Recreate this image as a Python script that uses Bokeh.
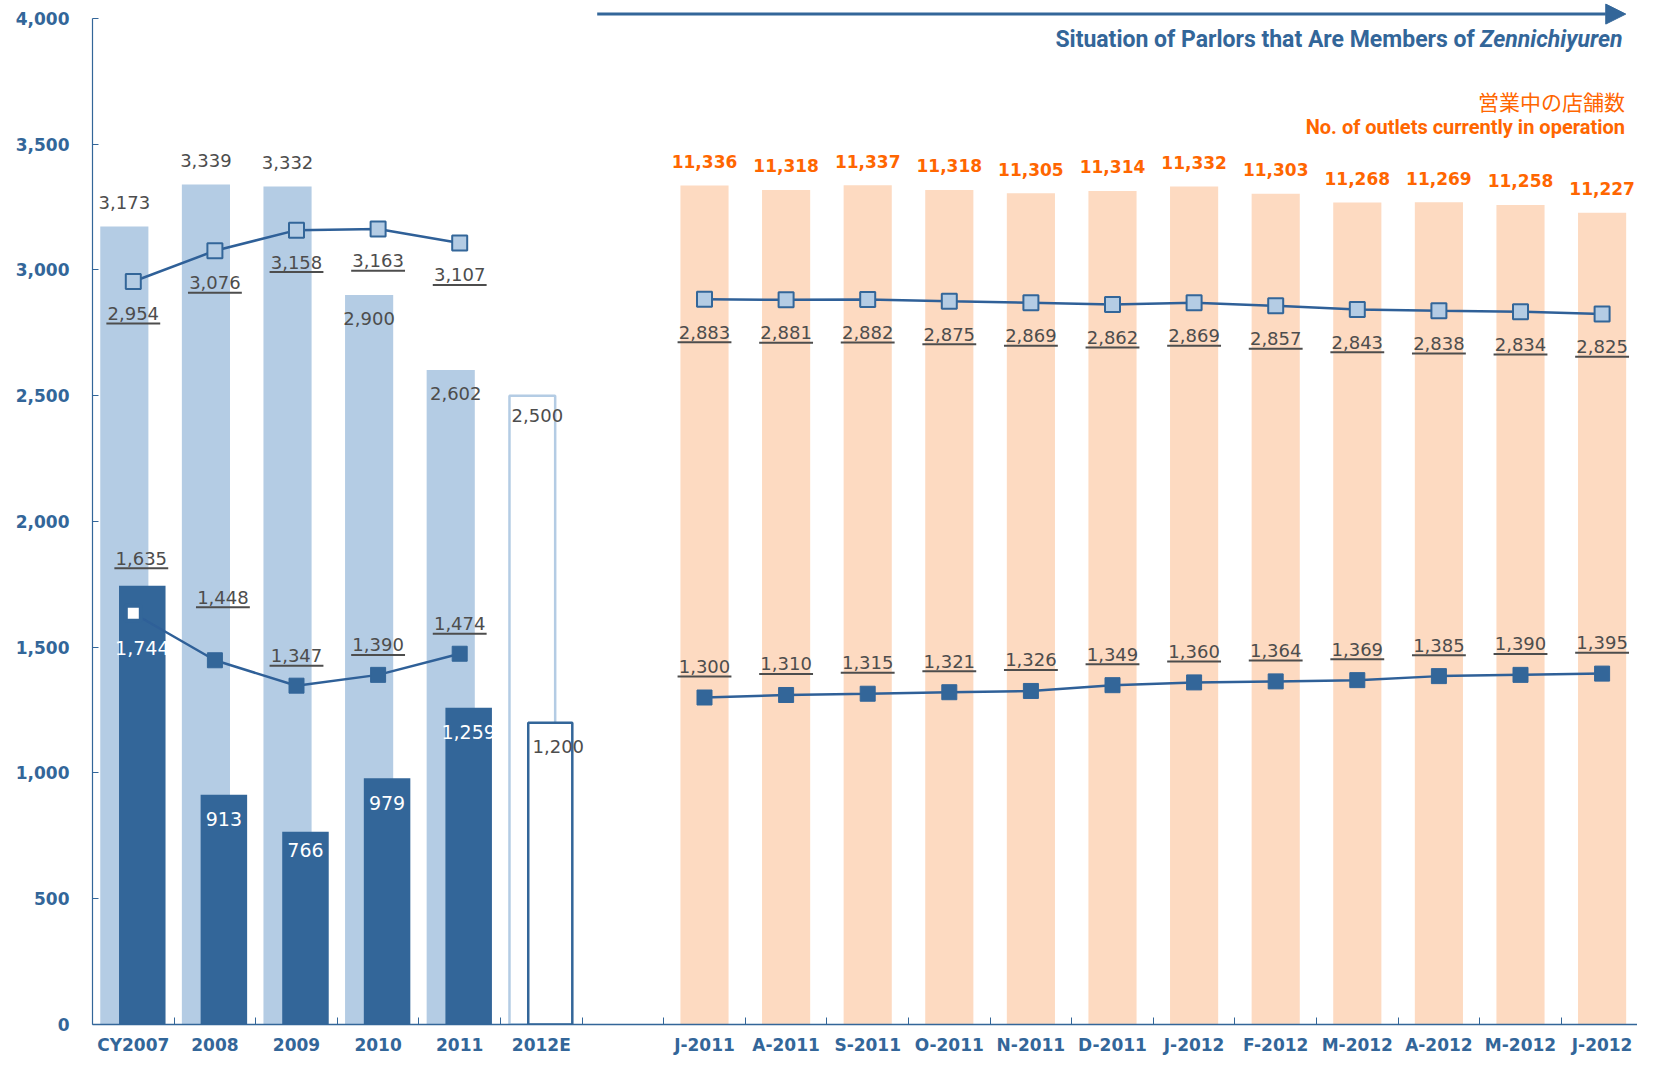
from bokeh.plotting import figure
from bokeh.models import (Range1d, FixedTicker, ColumnDataSource, Label, Arrow,
                          NormalHead, NumeralTickFormatter)
from bokeh.core.properties import value
from bokeh.embed import file_html
from bokeh.resources import INLINE

# ---------------- data ----------------
annual_categories = ["CY2007", "2008", "2009", "2010", "2011", "2012E"]
monthly_categories = ["J-2011", "A-2011", "S-2011", "O-2011", "N-2011", "D-2011",
                      "J-2012", "F-2012", "M-2012", "A-2012", "M-2012", "J-2012"]

annual_light_bars = [3173, 3339, 3332, 2900, 2602, 2500]   # last = estimate (outline)
annual_dark_bars = [1744, 913, 766, 979, 1259, 1200]       # last = estimate (outline)
annual_light_line = [2954, 3076, 3158, 3163, 3107]
annual_dark_line = [1635, 1448, 1347, 1390, 1474]

monthly_outlets = [11336, 11318, 11337, 11318, 11305, 11314,
                   11332, 11303, 11268, 11269, 11258, 11227]
monthly_light_line = [2883, 2881, 2882, 2875, 2869, 2862,
                      2869, 2857, 2843, 2838, 2834, 2825]
monthly_dark_line = [1300, 1310, 1315, 1321, 1326, 1349,
                     1360, 1364, 1369, 1385, 1390, 1395]

y_ticks = [0, 500, 1000, 1500, 2000, 2500, 3000, 3500, 4000]

# ---------------- style ----------------
DARK = "#336699"
LINE = "#2F6098"
LIGHT = "#B4CCE4"
ORANGE_BAR = "#FDDAC1"
ORANGE_TXT = "#FF6600"
GRAY = "#4D4D4D"
NUM_FONT = "DejaVu Sans"
NARROW = "Roboto"

W, H = 1637, 1057
BL, BR, BT, BB = 92, 0, 0, 32
Y_END = 4071
SLOT = 81.6
X_END = -0.5 + (W - BL - BR) / SLOT
PPU = (H - BT - BB) / float(Y_END)   # pixels per unit on the primary axis

annual_x = list(range(len(annual_categories)))
monthly_x = [len(annual_categories) + 1 + i for i in range(len(monthly_categories))]

p = figure(width=W, height=H, x_range=Range1d(-0.5, X_END), y_range=Range1d(0, Y_END),
           output_backend="svg", toolbar_location=None,
           min_border_left=BL, min_border_right=BR, min_border_top=BT, min_border_bottom=BB,
           outline_line_color=None, background_fill_color="white", border_fill_color="white")
p.extra_y_ranges = {"outlets": Range1d(8000, 8000 + Y_END)}
p.xgrid.grid_line_color = None
p.ygrid.grid_line_color = None

# y axis
ya = p.yaxis[0]
ya.ticker = FixedTicker(ticks=y_ticks)
ya.bounds = (0, 4000)
ya.formatter = NumeralTickFormatter(format="0,0")
ya.axis_label = None
ya.axis_line_color = DARK
ya.axis_line_width = 1.2
ya.major_tick_line_color = DARK
ya.major_tick_in = 6
ya.major_tick_out = 0
ya.minor_tick_line_color = None
ya.major_label_standoff = 23
ya.major_label_text_color = DARK
ya.major_label_text_font = NUM_FONT
ya.major_label_text_font_style = "bold"
ya.major_label_text_font_size = "17px"

# x axis
xa = p.xaxis[0]
cat_x = annual_x + monthly_x
boundaries = [i + 0.5 for i in range(0, 19)]
xa.ticker = FixedTicker(ticks=cat_x, minor_ticks=boundaries)
xa.major_label_overrides = {x: c for x, c in zip(cat_x, annual_categories + monthly_categories)}
xa.axis_label = None
xa.axis_line_color = DARK
xa.axis_line_width = 1.5
xa.major_tick_in = 0
xa.major_tick_out = 0
xa.major_tick_line_color = None
xa.minor_tick_in = 7
xa.minor_tick_out = 0
xa.minor_tick_line_color = DARK
xa.major_label_standoff = 10
xa.major_label_text_color = DARK
xa.major_label_text_font = NUM_FONT
xa.major_label_text_font_style = "bold"
xa.major_label_text_font_size = "17px"

n_act = len(annual_light_line)

# ---------------- bars ----------------
p.vbar(x=monthly_x, width=0.59, top=monthly_outlets, bottom=8000, y_range_name="outlets",
       fill_color=ORANGE_BAR, line_color=None)

p.vbar(x=[x - 0.11 for x in annual_x[:n_act]], width=0.59, top=annual_light_bars[:n_act],
       fill_color=LIGHT, line_color=None)
p.vbar(x=[annual_x[n_act] - 0.11], width=0.56, top=[annual_light_bars[n_act]],
       fill_color="white", line_color=LIGHT, line_width=2.5)
p.vbar(x=[x + 0.11 for x in annual_x[:n_act]], width=0.57, top=annual_dark_bars[:n_act],
       fill_color=DARK, line_color=None)
p.vbar(x=[annual_x[n_act] + 0.11], width=0.54, top=[annual_dark_bars[n_act]],
       fill_color="white", line_color=DARK, line_width=2.5)

# ---------------- lines ----------------
for xs, ys in [(annual_x[:n_act], annual_light_line), (monthly_x, monthly_light_line)]:
    p.line(xs, ys, line_color=LINE, line_width=2.5)
    p.scatter(xs, ys, marker="square", size=15, fill_color=LIGHT, line_color=DARK, line_width=2)

p.line(annual_x[:n_act], annual_dark_line, line_color=LINE, line_width=2.5)
p.scatter(annual_x[:n_act], annual_dark_line, marker="square", size=15,
          fill_color=["white"] + [DARK] * (n_act - 1),
          line_color=[DARK] * n_act, line_width=[4] + [1] * (n_act - 1))
p.line(monthly_x, monthly_dark_line, line_color=LINE, line_width=2.5)
p.scatter(monthly_x, monthly_dark_line, marker="square", size=15, fill_color=DARK,
          line_color=DARK, line_width=1)


# ---------------- labels ----------------
def labels(xs, ys, vals, yoff, color, bold=False, size="18px", xoff=None,
           underline=False, y_range_name="default"):
    n = len(xs)
    yo = yoff if isinstance(yoff, list) else [yoff] * n
    xo = xoff if xoff is not None else [0] * n
    src = ColumnDataSource(dict(x=xs, y=ys, text=[f"{v:,}" for v in vals], yo=yo, xo=xo))
    p.text(x="x", y="y", text="text", x_offset="xo", y_offset="yo", source=src,
           text_align="center", text_baseline="middle", text_color=color,
           text_font=value(NUM_FONT), text_font_size=size,
           text_font_style="bold" if bold else "normal", y_range_name=y_range_name)
    if underline:
        half = 0.33
        x0 = [x + o / SLOT - half for x, o in zip(xs, xo)]
        x1 = [x + o / SLOT + half for x, o in zip(xs, xo)]
        yy = [y - (o + 10) / PPU for y, o in zip(ys, yo)]
        p.segment(x0=x0, x1=x1, y0=yy, y1=yy, line_color=color, line_width=2)


# light bars
labels([x - 0.11 for x in annual_x], annual_light_bars, annual_light_bars,
       [-24, -24, -24, 23, 23, 20], GRAY, xoff=[0, 0, 0, 0, 5, 5])
# dark bars
labels([x + 0.11 for x in annual_x[:n_act]], annual_dark_bars[:n_act], annual_dark_bars[:n_act],
       [62, 24, 18, 25, 24], "white", size="19px")
labels([annual_x[n_act] + 0.11], [annual_dark_bars[n_act]], [annual_dark_bars[n_act]],
       [24], GRAY, xoff=[8])
# annual lines
labels(annual_x[:n_act], annual_light_line, annual_light_line, 32, GRAY, underline=True)
labels(annual_x[:n_act], annual_dark_line, annual_dark_line, [-55, -63, -30, -30, -30], GRAY,
       xoff=[8, 8, 0, 0, 0], underline=True)
# monthly
labels(monthly_x, monthly_outlets, monthly_outlets, -24, ORANGE_TXT, bold=True, size="17px",
       y_range_name="outlets")
labels(monthly_x, monthly_light_line, monthly_light_line, 33, GRAY, underline=True)
labels(monthly_x, monthly_dark_line, monthly_dark_line, -31, GRAY, underline=True)

# ---------------- annotations ----------------
p.add_layout(Arrow(x_start=5.685, y_start=4017, x_end=18.29, y_end=4017,
                   line_color=DARK, line_width=3,
                   end=NormalHead(size=20, fill_color=DARK, line_color=DARK)))
p.add_layout(Label(x=16.439, y=3916, text="Situation of Parlors that Are Members of",
                   text_align="right", text_baseline="middle", text_color=DARK,
                   text_font=NARROW, text_font_size="23px", text_font_style="bold"))
p.add_layout(Label(x=16.503, y=3916, text="Zennichiyuren",
                   text_align="left", text_baseline="middle", text_color=DARK,
                   text_font=NARROW, text_font_size="23px", text_font_style="bold italic"))
p.add_layout(Label(x=18.28, y=3673, text="営業中の店舗数",
                   text_align="right", text_baseline="middle", text_color=ORANGE_TXT,
                   text_font="Noto Sans CJK JP", text_font_size="21px"))
p.add_layout(Label(x=18.28, y=3569, text="No. of outlets currently in operation",
                   text_align="right", text_baseline="middle", text_color=ORANGE_TXT,
                   text_font=NARROW, text_font_size="20px", text_font_style="bold"))

open("out.html", "w").write(file_html(p, INLINE))
